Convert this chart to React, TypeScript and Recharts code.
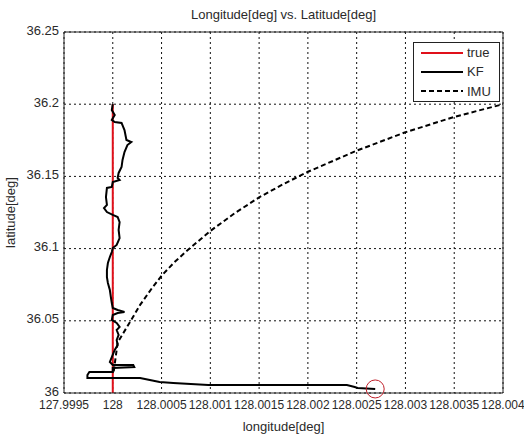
import React from 'react';
import { LineChart, Line, XAxis, YAxis, CartesianGrid, Legend, ReferenceLine, ReferenceDot } from 'recharts';

const xTicks = [127.9995, 128, 128.0005, 128.001, 128.0015, 128.002, 128.0025, 128.003, 128.0035, 128.004];
const yTicks = [36, 36.05, 36.1, 36.15, 36.2, 36.25];

const trueLon = [128, 128];
const trueLat = [36, 36.2];

const kfLon = [
  128.0, 127.99999, 128.00002, 127.99999, 128.00002, 128.00009, 128.00012, 128.00014, 128.00019, 128.00015,
  128.00012, 128.0001, 128.00009, 128.00006, 128.00005, 128.00007, 128.0, 127.99999, 127.99994, 127.99993,
  127.99994, 127.99991, 127.99994, 128.0, 128.00005, 128.00007, 128.00006, 128.00007, 128.00004, 128.0,
  127.99999, 127.99997, 127.99995, 127.99994, 127.99994, 127.99995, 127.99997, 127.99998, 127.99999, 128.0,
  128.00005, 128.00012, 128.00005, 128.0, 127.99999, 128.00004, 128.00007, 128.00004, 128.00006, 128.00004,
  128.00005, 128.00002, 127.99999, 127.99997, 128.0, 128.00021, 128.00022, 128.0, 128.0, 127.99976,
  127.99974, 127.99974, 128.00028, 128.00038, 128.00048, 128.00062, 128.00098, 128.0024, 128.00248, 128.00251,
  128.00269,
];
const kfLat = [
  36.2001, 36.196, 36.1925, 36.1891, 36.1877, 36.187, 36.1821, 36.1752, 36.1738, 36.1717,
  36.1669, 36.1614, 36.1565, 36.1524, 36.149, 36.1475, 36.1461, 36.1427, 36.142, 36.1357,
  36.1302, 36.1281, 36.1253, 36.1233, 36.1219, 36.1184, 36.1129, 36.1073, 36.1025, 36.1004,
  36.0976, 36.0942, 36.09, 36.0852, 36.0803, 36.0762, 36.0713, 36.0665, 36.0623, 36.0589,
  36.0575, 36.0561, 36.0554, 36.054, 36.0506, 36.0485, 36.0457, 36.0436, 36.0402, 36.0367,
  36.0332, 36.0298, 36.0249, 36.0215, 36.0194, 36.0194, 36.018, 36.0173, 36.0145, 36.0145,
  36.0125, 36.0104, 36.0104, 36.009, 36.0076, 36.0069, 36.0055, 36.0055, 36.0042, 36.0035,
  36.0028,
];

const imuLon = [
  128.00001, 128.00005, 128.000175, 128.00028, 128.0004, 128.0005, 128.00063, 128.00076, 128.0009, 128.001,
  128.00125, 128.0015, 128.00175, 128.002, 128.0025, 128.003, 128.0035, 128.004,
];
const imuLat = [
  36.015, 36.035, 36.049, 36.061, 36.0725, 36.0812, 36.0905, 36.0985, 36.1065, 36.1122,
  36.1245, 36.1355, 36.1447, 36.1532, 36.1678, 36.1806, 36.1912, 36.2,
];

const endLon = 128.00269;
const endLat = 36.0028;

const seriesOrder = ['true', 'KF', 'IMU'];

const zip = (xs: number[], ys: number[]) => xs.map((x, i) => ({ x, y: ys[i] }));
const trueData = zip(trueLon, trueLat);
const kfData = zip(kfLon, kfLat);
const imuData = zip(imuLon, imuLat);

const FONT = '"Liberation Sans", Arial, sans-serif';
const TXT = '#2a2a2a';

const renderLegend = (props: any) => {
  const payload: any[] = [...(props.payload || [])].sort(
    (a, b) => seriesOrder.indexOf(a.value) - seriesOrder.indexOf(b.value)
  );
  return (
    <div
      style={{
        border: '1px solid #222',
        background: '#fff',
        width: 87,
        height: 60,
        boxSizing: 'border-box',
        fontFamily: FONT,
        fontSize: 13,
        color: TXT,
      }}
    >
      {payload.map((p) => (
        <div key={p.value} style={{ display: 'flex', alignItems: 'center', height: 19.3 }}>
          <svg width={49} height={6} style={{ display: 'block' }}>
            <line
              x1={7}
              y1={3}
              x2={49}
              y2={3}
              stroke={p.color}
              strokeWidth={2}
              strokeDasharray={p.payload && p.payload.strokeDasharray}
            />
          </svg>
          <span style={{ marginLeft: 4, lineHeight: '13px' }}>{p.value}</span>
        </div>
      ))}
    </div>
  );
};

export default function App() {
  return (
    <div style={{ position: 'absolute', left: 0, top: 0, width: 524, height: 436, background: '#fff' }}>
      <div
        style={{
          position: 'absolute',
          left: 64,
          width: 439,
          top: 7,
          textAlign: 'center',
          fontFamily: FONT,
          fontSize: 13,
          color: TXT,
          lineHeight: '16px',
        }}
      >
        Longitude[deg] vs. Latitude[deg]
      </div>
      <LineChart width={524} height={436} margin={{ top: 32, right: 21, bottom: 0, left: 0 }}>
        <CartesianGrid stroke="#111" strokeDasharray="2 3" strokeWidth={1} />
        <XAxis
          type="number"
          dataKey="x"
          domain={[127.9995, 128.004]}
          ticks={xTicks}
          allowDataOverflow
          height={43}
          tickLine={false}
          tickSize={5}
          stroke="#222"
          tick={{ fill: TXT, fontSize: 12, fontFamily: FONT }}
          interval={0}
          label={{ value: 'longitude[deg]', position: 'insideBottom', offset: 5, fill: TXT, fontSize: 13, fontFamily: FONT }}
        />
        <YAxis
          type="number"
          dataKey="y"
          domain={[36, 36.25]}
          ticks={yTicks}
          allowDataOverflow
          width={64}
          tickLine={false}
          tickSize={3}
          stroke="#222"
          tick={{ fill: TXT, fontSize: 13, fontFamily: FONT, dy: -2 }}
          interval={0}
          label={{
            value: 'latitude[deg]',
            angle: -90,
            position: 'insideLeft',
            offset: 10,
            fill: TXT,
            fontSize: 13,
            fontFamily: FONT,
            style: { textAnchor: 'middle' },
          }}
        />
        <ReferenceLine y={36.25} stroke="#222" strokeWidth={1} />
        <ReferenceLine x={128.004} stroke="#222" strokeWidth={1} />
        <Line data={trueData} dataKey="y" name="true" stroke="#e0101a" strokeWidth={2} dot={false} isAnimationActive={false} type="linear" />
        <Line data={kfData} dataKey="y" name="KF" stroke="#000" strokeWidth={2} dot={false} isAnimationActive={false} type="linear" />
        <Line data={imuData} dataKey="y" name="IMU" stroke="#000" strokeWidth={2} strokeDasharray="5 3" dot={false} isAnimationActive={false} type="linear" />
        <ReferenceDot x={endLon} y={endLat} r={9} fill="none" stroke="#c0202a" strokeWidth={1} />
        <Legend
          content={renderLegend}
          layout="horizontal"
          verticalAlign="middle"
          align="center"
          wrapperStyle={{ left: 413, top: 42, width: 87, height: 60 }}
        />
      </LineChart>
    </div>
  );
}
